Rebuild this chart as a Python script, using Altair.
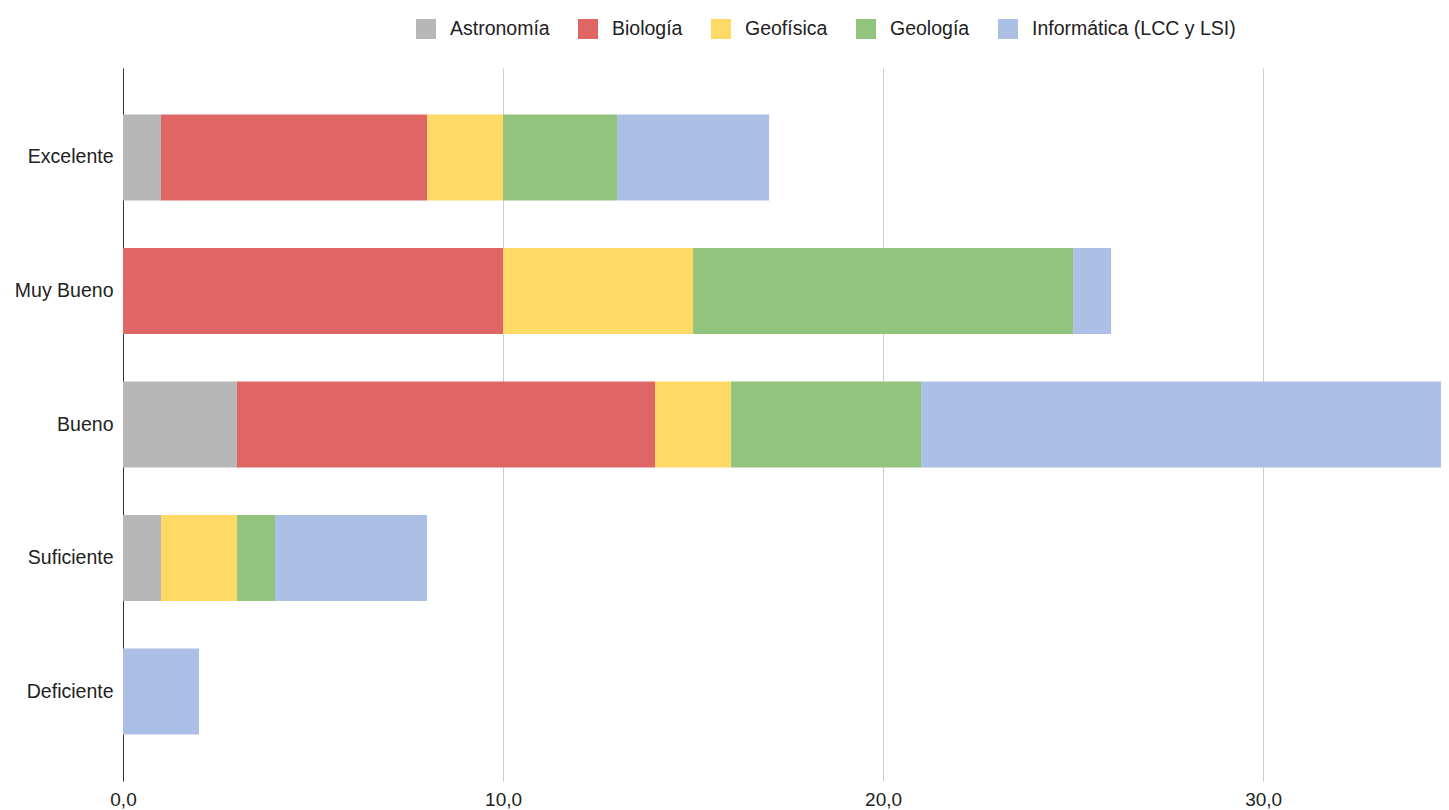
import altair as alt
import pandas as pd

categories = ["Excelente", "Muy Bueno", "Bueno", "Suficiente", "Deficiente"]
programs = ["Astronomía", "Biología", "Geofísica", "Geología", "Informática (LCC y LSI)"]
colors = ["#b7b7b7", "#e06666", "#ffd966", "#93c47d", "#abc0e4"]

astronomia = [1, 0, 3, 1, 0]
biologia = [7, 10, 11, 0, 0]
geofisica = [2, 5, 2, 2, 0]
geologia = [3, 10, 5, 1, 0]
informatica = [4, 1, 14, 4, 2]

series = [astronomia, biologia, geofisica, geologia, informatica]
rows = []
for pi, (prog, vals) in enumerate(zip(programs, series)):
    for cat, v in zip(categories, vals):
        rows.append({"Calificación": cat, "Programa": prog, "Valor": v, "orden": pi})
df = pd.DataFrame(rows)

FONT = "Liberation Sans"

chart = alt.Chart(df).mark_bar(clip=True).encode(
    y=alt.Y("Calificación:N", sort=categories,
            scale=alt.Scale(paddingInner=0.356, paddingOuter=0.348),
            axis=alt.Axis(title=None, ticks=False, domain=True, domainColor="#333333",
                          domainWidth=1, labelFontSize=19.5, labelColor="#222222",
                          labelFont=FONT, labelPadding=10, grid=False)),
    x=alt.X("Valor:Q", stack="zero",
            scale=alt.Scale(domain=[0, 34.68], nice=False, zero=True),
            axis=alt.Axis(title=None, values=[0, 10, 20, 30], ticks=False, domain=False,
                          grid=True, gridColor="#cccccc", gridWidth=1,
                          labelExpr="replace(format(datum.value, '.1f'), '.', ',')",
                          labelFontSize=19, labelColor="#222222", labelFont=FONT,
                          labelPadding=9, labelFlush=False)),
    color=alt.Color("Programa:N", sort=programs,
                    scale=alt.Scale(domain=programs, range=colors),
                    legend=alt.Legend(title=None, orient="none", direction="horizontal",
                                      legendX=293, legendY=-49,
                                      symbolType="square", symbolSize=400,
                                      symbolStrokeWidth=0, symbolOpacity=1,
                                      labelFontSize=19.5, labelColor="#222222",
                                      labelFont=FONT, labelOffset=14, labelLimit=500,
                                      columnPadding=28)),
    order=alt.Order("orden:Q", sort="ascending"),
).properties(
    width=1318, height=713,
    autosize=alt.AutoSizeParams(type="none"),
    padding={"left": 115, "top": 60, "right": 0, "bottom": 29},
).configure_view(stroke=None).configure_axis(gridOpacity=1)

chart.save("out.html", embed_options={"renderer": "svg", "actions": False})
